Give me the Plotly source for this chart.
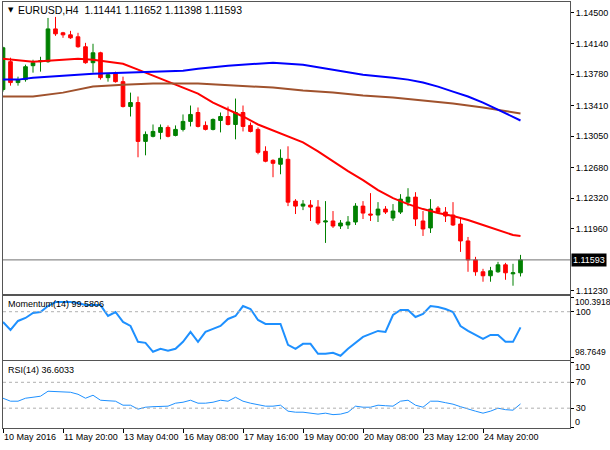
import plotly.graph_objects as go

# Datos: velas EURUSD H4
bar_idx = list(range(70))
opens = [1.13598, 1.13926, 1.13680, 1.13715, 1.13879, 1.13926, 1.13926, 1.14312, 1.14266, 1.14242,
         1.14219, 1.14102, 1.13914, 1.14031, 1.13738, 1.13785, 1.13691, 1.13398, 1.13445, 1.12988,
         1.13047, 1.13094, 1.13152, 1.13058, 1.13129, 1.13223, 1.13328, 1.13176, 1.13129, 1.13234,
         1.13281, 1.13187, 1.13328, 1.13176, 1.13129, 1.12871, 1.12765, 1.12719, 1.12777, 1.12285,
         1.12226, 1.12238, 1.12215, 1.12039, 1.12051, 1.11992, 1.12004, 1.12039, 1.12226, 1.12133,
         1.12121, 1.12191, 1.12086, 1.12156, 1.12273, 1.12332, 1.12051, 1.11969, 1.12203, 1.12156,
         1.12121, 1.12015, 1.11816, 1.11593, 1.11453, 1.11406, 1.11453, 1.11535, 1.11429, 1.11441]
highs = [1.14102, 1.13973, 1.13750, 1.13891, 1.13949, 1.13984, 1.14441, 1.14453, 1.14277, 1.14289,
         1.14266, 1.14148, 1.14137, 1.14043, 1.13785, 1.13809, 1.13750, 1.13562, 1.13516, 1.13105,
         1.13187, 1.13187, 1.13176, 1.13176, 1.13305, 1.13410, 1.13387, 1.13223, 1.13258, 1.13328,
         1.13398, 1.13492, 1.13410, 1.13211, 1.13152, 1.12930, 1.12777, 1.12894, 1.12930, 1.12308,
         1.12297, 1.12297, 1.12297, 1.12285, 1.12168, 1.12062, 1.12109, 1.12261, 1.12285, 1.12379,
         1.12273, 1.12226, 1.12250, 1.12367, 1.12437, 1.12390, 1.12168, 1.12308, 1.12226, 1.12215,
         1.12273, 1.12074, 1.11863, 1.11629, 1.11488, 1.11511, 1.11570, 1.11558, 1.11547, 1.11652]
lows = [1.13574, 1.13644, 1.13644, 1.13691, 1.13797, 1.13809, 1.13914, 1.14230, 1.14207, 1.14195,
        1.14090, 1.13902, 1.13797, 1.13715, 1.13691, 1.13680, 1.13387, 1.13281, 1.12801, 1.12824,
        1.13035, 1.13012, 1.13035, 1.13047, 1.13105, 1.13164, 1.13152, 1.13117, 1.13117, 1.13094,
        1.13176, 1.13012, 1.13105, 1.13094, 1.12836, 1.12742, 1.12566, 1.12601, 1.12226, 1.12133,
        1.12179, 1.12051, 1.12004, 1.11793, 1.11969, 1.11957, 1.11957, 1.12004, 1.12074, 1.12051,
        1.12039, 1.12133, 1.12051, 1.12133, 1.12226, 1.11992, 1.11875, 1.11910, 1.12144, 1.12039,
        1.11992, 1.11687, 1.11453, 1.11406, 1.11336, 1.11336, 1.11441, 1.11359, 1.11289, 1.11398]
closes = [1.14090, 1.13680, 1.13715, 1.13867, 1.13914, 1.13937, 1.14312, 1.14254, 1.14242, 1.14207,
          1.14102, 1.13914, 1.14031, 1.13738, 1.13773, 1.13691, 1.13398, 1.13445, 1.12988, 1.13070,
          1.13105, 1.13152, 1.13047, 1.13129, 1.13223, 1.13305, 1.13164, 1.13129, 1.13246, 1.13281,
          1.13187, 1.13328, 1.13164, 1.13105, 1.12859, 1.12754, 1.12730, 1.12789, 1.12273, 1.12226,
          1.12250, 1.12215, 1.12027, 1.12051, 1.11992, 1.12027, 1.12039, 1.12226, 1.12144, 1.12121,
          1.12191, 1.12156, 1.12168, 1.12308, 1.12332, 1.12074, 1.11957, 1.12191, 1.12156, 1.12109,
          1.12004, 1.11816, 1.11593, 1.11453, 1.11406, 1.11465, 1.11535, 1.11441, 1.11441, 1.11593]

# Medias móviles (roja, azul, marrón)
ma_red_idx = [0, 4, 6, 10, 12, 14, 16, 18, 20, 22, 24, 26, 28, 30, 32, 34, 36, 38, 40, 42, 44,
              46, 48, 50, 52, 54, 56, 58, 60, 62, 64, 66, 68, 69]
ma_red = [1.13961, 1.13926, 1.13937, 1.13961, 1.13949, 1.13926, 1.13902, 1.13832, 1.13762, 1.13691,
          1.13621, 1.13551, 1.13445, 1.13363, 1.13281, 1.13187, 1.13117, 1.13047, 1.12976, 1.12871,
          1.12754, 1.12637, 1.12531, 1.12414, 1.12320, 1.12250, 1.12191, 1.12144, 1.12109, 1.12062,
          1.12004, 1.11945, 1.11886, 1.11875]
ma_blue_idx = [0, 2, 4, 8, 12, 16, 20, 24, 26, 30, 34, 36, 40, 44, 48, 52, 54, 56, 58, 60, 62,
               64, 66, 68, 69]
ma_blue = [1.13715, 1.13715, 1.13738, 1.13762, 1.13785, 1.13797, 1.13809, 1.13820, 1.13844, 1.13879,
           1.13902, 1.13914, 1.13891, 1.13832, 1.13773, 1.13738, 1.13715, 1.13680, 1.13633, 1.13574,
           1.13516, 1.13445, 1.13363, 1.13281, 1.13234]
ma_brown_idx = [0, 4, 8, 12, 16, 20, 26, 32, 36, 40, 44, 48, 52, 56, 60, 64, 68, 69]
ma_brown = [1.13516, 1.13516, 1.13562, 1.13633, 1.13656, 1.13668, 1.13668, 1.13644, 1.13621, 1.13586,
            1.13562, 1.13527, 1.13504, 1.13469, 1.13433, 1.13387, 1.13328, 1.13316]

# Indicadores
momentum = [99.725, 99.512, 99.752, 99.832, 99.965, 99.992, 100.152, 100.258, 100.258, 100.258,
            100.232, 100.178, 100.178, 100.178, 99.885, 99.992, 99.725, 99.618, 99.192, 99.165,
            98.925, 99.005, 98.952, 99.005, 99.192, 99.458, 99.192, 99.458, 99.54, 99.618,
            99.805, 99.885, 100.152, 100.072, 99.778, 99.672, 99.672, 99.672, 99.112, 99.005,
            99.138, 99.138, 98.872, 98.872, 98.898, 98.818, 99.005, 99.165, 99.325, 99.405,
            99.485, 99.458, 99.912, 100.045, 100.045, 99.858, 99.938, 100.152, 100.125, 100.072,
            99.992, 99.618, 99.485, 99.378, 99.272, 99.378, 99.378, 99.192, 99.192, 99.5806]
rsi = [45.4, 40.8, 40.8, 45.4, 46.9, 48.5, 56.2, 55.4, 54.6, 54.6,
       51.5, 45.4, 50.0, 42.3, 41.5, 40.8, 34.6, 34.6, 28.5, 31.5,
       32.3, 33.1, 33.1, 37.7, 39.2, 42.3, 37.7, 37.7, 39.2, 42.3,
       40.8, 46.9, 40.8, 37.7, 35.4, 33.1, 33.1, 34.6, 25.4, 23.8,
       23.8, 22.3, 20.8, 22.3, 20.0, 20.8, 23.8, 33.1, 31.5, 31.5,
       34.6, 33.8, 33.1, 40.8, 42.3, 34.6, 31.5, 40.8, 40.8, 38.5,
       36.2, 32.3, 28.5, 25.4, 22.3, 25.4, 30.0, 27.7, 26.9, 36.6033]

# Ejes
x_tick_idx = [0, 8, 16, 24, 32, 40, 48, 56, 64]
x_tick_text = ["10 May 2016", "11 May 20:00", "13 May 04:00", "16 May 08:00", "17 May 16:00",
               "19 May 00:00", "20 May 08:00", "23 May 12:00", "24 May 20:00"]
price_ticks = [1.14500, 1.14140, 1.13780, 1.13410, 1.13050, 1.12680, 1.12320, 1.11960, 1.11230]
mom_ticks = [98.7649, 100, 100.3918]
rsi_ticks = [0, 30, 70, 100]

FONT = "Liberation Sans"
X_DOM = [3 / 610, 570 / 610]
X_RANGE = [0, 75.6]

fig = go.Figure()

fig.add_trace(go.Candlestick(
    x=bar_idx, open=opens, high=highs, low=lows, close=closes,
    increasing=dict(line=dict(color="#008000", width=1), fillcolor="#008000"),
    decreasing=dict(line=dict(color="#ff0000", width=1), fillcolor="#ff0000"),
    whiskerwidth=0, xaxis="x", yaxis="y", hoverinfo="skip",
))
fig.add_trace(go.Scatter(x=ma_red_idx, y=ma_red, mode="lines",
                         line=dict(color="#ff0000", width=2), xaxis="x", yaxis="y"))
fig.add_trace(go.Scatter(x=ma_brown_idx, y=ma_brown, mode="lines",
                         line=dict(color="#a0522d", width=2), xaxis="x", yaxis="y"))
fig.add_trace(go.Scatter(x=ma_blue_idx, y=ma_blue, mode="lines",
                         line=dict(color="#0000ff", width=2), xaxis="x", yaxis="y"))

fig.add_trace(go.Scatter(x=bar_idx, y=momentum, mode="lines",
                         line=dict(color="#1e90ff", width=2), xaxis="x2", yaxis="y2"))
fig.add_trace(go.Scatter(x=bar_idx, y=rsi, mode="lines",
                         line=dict(color="#1e90ff", width=1), xaxis="x3", yaxis="y3"))

frame = dict(showline=True, mirror=True, linecolor="#555555", linewidth=1,
             showgrid=False, zeroline=False)
yfmt = dict(side="right", ticks="outside", ticklen=3, tickcolor="#000000",
            ticklabelstandoff=0,
            tickfont=dict(family=FONT, size=9, color="#000000"))

fig.update_layout(
    width=610, height=450,
    margin=dict(l=0, r=0, t=0, b=0),
    paper_bgcolor="white", plot_bgcolor="white",
    showlegend=False,
    xaxis=dict(domain=X_DOM, range=X_RANGE, anchor="y", showticklabels=False,
               rangeslider=dict(visible=False), **frame),
    xaxis2=dict(domain=X_DOM, range=X_RANGE, anchor="y2", showticklabels=False, **frame),
    xaxis3=dict(domain=X_DOM, range=X_RANGE, anchor="y3", tickmode="array",
                tickvals=x_tick_idx, ticktext=x_tick_text, ticks="outside", ticklen=4,
                tickcolor="#000000", ticklabelposition="outside right", tickangle=0,
                tickfont=dict(family=FONT, size=9, color="#000000"), **frame),
    yaxis=dict(domain=[0.3444, 0.9956], range=[1.11195, 1.14629], anchor="x",
               tickmode="array", tickvals=price_ticks,
               ticktext=[f"{v:.5f}" for v in price_ticks], **yfmt, **frame),
    yaxis2=dict(domain=[0.1956, 0.34], range=[98.695, 100.43], anchor="x2",
                tickmode="array", tickvals=mom_ticks, ticktext=["", "100", ""],
                **yfmt, **frame),
    yaxis3=dict(domain=[0.0444, 0.1933], range=[-0.8, 102.3], anchor="x3",
                tickmode="array", tickvals=rsi_ticks, ticktext=["", "30", "70", ""],
                **yfmt, **frame),
)

# Línea del precio actual y niveles punteados
fig.add_shape(type="line", xref="x", yref="y", x0=X_RANGE[0], x1=X_RANGE[1],
              y0=closes[-1], y1=closes[-1], line=dict(color="#707070", width=1))
fig.add_shape(type="line", xref="x2", yref="y2", x0=X_RANGE[0], x1=X_RANGE[1],
              y0=100, y1=100, line=dict(color="#b0b0b0", width=1, dash="dot"))
for lvl in [30, 70]:
    fig.add_shape(type="line", xref="x3", yref="y3", x0=X_RANGE[0], x1=X_RANGE[1],
                  y0=lvl, y1=lvl, line=dict(color="#b0b0b0", width=1, dash="dot"))

txt = dict(family=FONT, size=9, color="#000000")
small = dict(family=FONT, size=8.5, color="#000000")
lab_x = 573 / 610

# Cabecera y etiquetas de los indicadores
fig.add_annotation(text="▼", x=6 / 610, y=1 - 10 / 450, xref="paper", yref="paper",
                   xanchor="left", yanchor="middle", showarrow=False,
                   font=dict(family="DejaVu Sans", size=7, color="#000000"))
fig.add_annotation(
    text=f"EURUSD,H4\u00a0\u00a0{opens[-1]:.5f} {highs[-1]:.5f} {lows[-1]:.5f} {closes[-1]:.5f}",
    x=16 / 610, y=1 - 10 / 450, xref="paper", yref="paper",
    xanchor="left", yanchor="middle", showarrow=False,
    font=dict(family=FONT, size=10.5, color="#000000"))
fig.add_annotation(text=f"Momentum(14) {momentum[-1]:.4f}", x=6 / 610, y=1 - 305 / 450,
                   xref="paper", yref="paper", xanchor="left", yanchor="middle",
                   showarrow=False, font=txt)
fig.add_annotation(text=f"RSI(14) {rsi[-1]:.4f}", x=6 / 610, y=1 - 372 / 450,
                   xref="paper", yref="paper", xanchor="left", yanchor="middle",
                   showarrow=False, font=txt)

# Etiquetas extremas de los paneles
fig.add_annotation(text=f"{mom_ticks[2]:.4f}", x=lab_x, y=1 - 303 / 450, xref="paper",
                   yref="paper", xanchor="left", yanchor="middle", showarrow=False, font=small)
fig.add_annotation(text=f"{mom_ticks[0]:.4f}", x=lab_x, y=1 - 354 / 450, xref="paper",
                   yref="paper", xanchor="left", yanchor="middle", showarrow=False, font=small)
fig.add_annotation(text="100", x=lab_x, y=1 - 369 / 450, xref="paper", yref="paper",
                   xanchor="left", yanchor="middle", showarrow=False, font=txt)
fig.add_annotation(text="0", x=lab_x, y=1 - 424 / 450, xref="paper", yref="paper",
                   xanchor="left", yanchor="middle", showarrow=False, font=txt)

# Caja del precio actual
fig.add_annotation(text=f"{closes[-1]:.5f}", x=571 / 610, y=closes[-1], xref="paper", yref="y",
                   xanchor="left", yanchor="middle", showarrow=False, bgcolor="#000000",
                   borderpad=1, font=dict(family=FONT, size=9, color="#ffffff"))

# sin margen del body para que el gráfico quepa exacto en la ventana
fig.write_html("out.html", config={"displayModeBar": False},
               post_script="document.body.style.margin='0';")
